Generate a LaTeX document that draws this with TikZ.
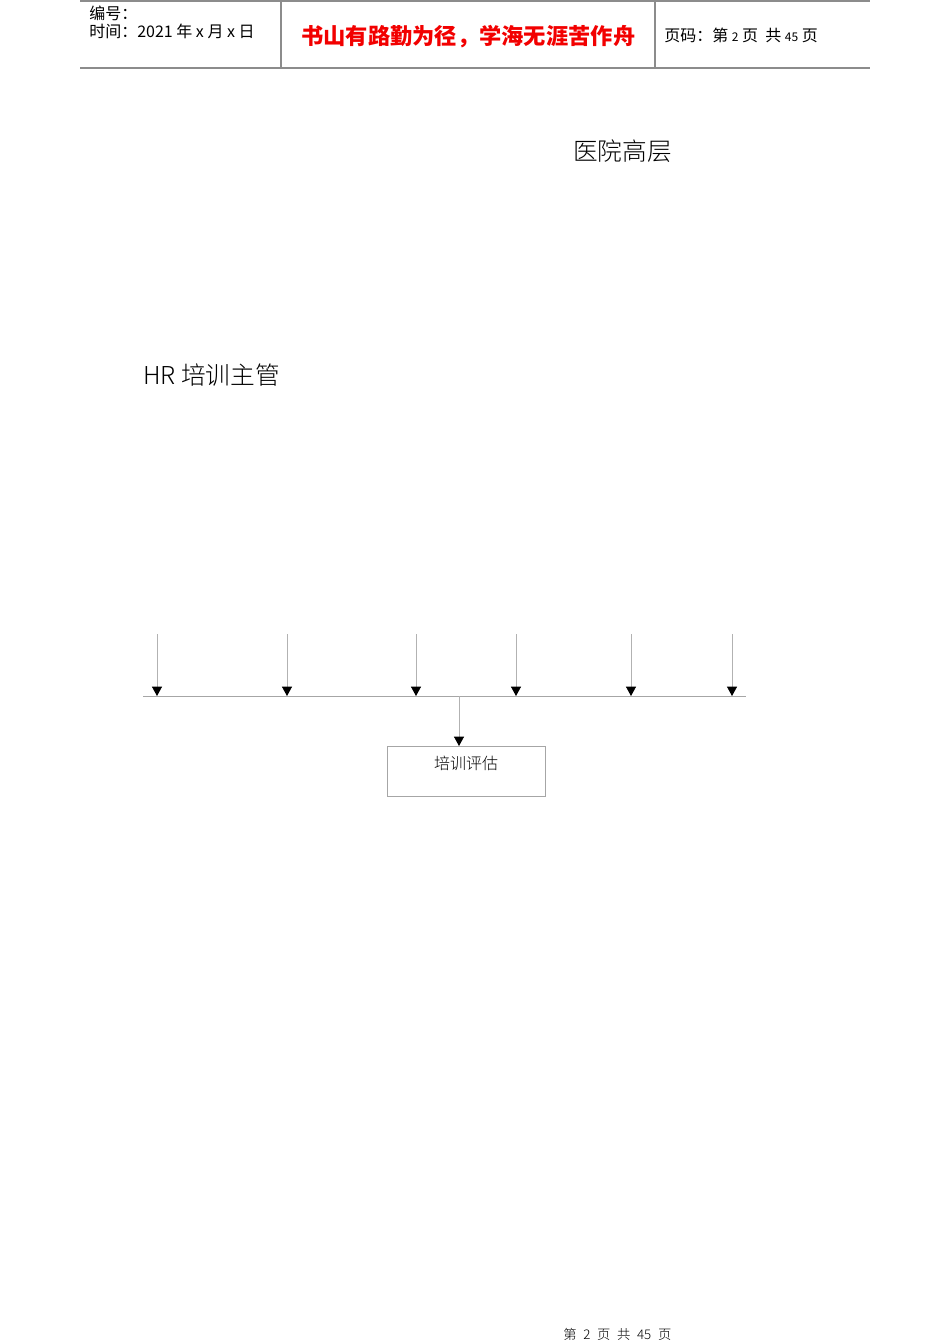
\documentclass[tikz,border=0pt]{standalone}
\usepackage{fontspec}
\newfontfamily\cjk{Noto Sans CJK SC}
\newfontfamily\cjklight{Noto Sans CJK SC}[UprightFont=* Light]
\usetikzlibrary{arrows.meta}
\begin{document}
\begin{tikzpicture}[x=0.75pt,y=-0.75pt,
  rule/.style={draw=black!45,line width=0.8pt},
  conn/.style={draw=black!30,line width=0.6pt,-{Triangle[width=7.5pt,length=7pt,black]}},
  bus/.style={draw=black!35,line width=0.7pt},
  lbl/.style={inner sep=0pt,anchor=west,font=\cjk}]
\useasboundingbox (0,0) rectangle (950,1344);
% header
\draw[rule] (80,1) -- (870,1);
\draw[rule] (80,68) -- (870,68);
\draw[rule] (281,1) -- (281,68);
\draw[rule] (655,1) -- (655,68);
\node[lbl,font=\cjk\fontsize{12}{14}\selectfont] (h1) at (89,13) {编号：};
\node[lbl,font=\cjk\fontsize{12}{14}\selectfont] (h2) at (89,31) {时间：2021 年 x 月 x 日};
\node[lbl,font=\cjk\bfseries\fontsize{16.7}{18}\selectfont,text=red!95!black] (h3) at (301,37) {书山有路勤为径，学海无涯苦作舟};
\node[lbl,font=\cjk\fontsize{12}{14}\selectfont] (h4) at (664,35) {页码：第 {\fontsize{9}{10}\selectfont 2} 页\ \ 共 {\fontsize{9}{10}\selectfont 45} 页};
% titles
\node[lbl,font=\cjklight\fontsize{18.5}{20}\selectfont] (top) at (573,151) {医院高层};
\node[lbl,font=\cjklight\fontsize{18.5}{20}\selectfont] (hr) at (143,375) {HR 培训主管};
% arrows
\foreach \i/\x in {1/157,2/287,3/416,4/516,5/631,6/732}{
  \coordinate (t\i) at (\x,634);
  \coordinate (b\i) at (\x,696);
}
\coordinate (busL) at (143,696);
\coordinate (busR) at (746,696);
\coordinate (busM) at (459,696);
\draw[bus] (busL) -- (busR);
\foreach \i in {1,...,6}{\draw[conn] (t\i) -- (b\i);}
\node[draw=black!35,line width=0.6pt,minimum width=118.5pt,minimum height=37.5pt,inner sep=0pt,anchor=north west] (eval) at (387,746) {};
\node[inner sep=0pt,font=\cjklight\fontsize{12}{14}\selectfont] (evaltxt) at (466,763) {培训评估};
\draw[conn] (busM) -- (busM |- eval.north);
% footer
\node[inner sep=0pt,anchor=west,font=\cjklight\fontsize{10}{12}\selectfont] (foot) at (563,1334) {第\hspace{5pt}2\hspace{5pt}页\hspace{5pt}共\hspace{5pt}45\hspace{5pt}页};
\end{tikzpicture}
\end{document}
